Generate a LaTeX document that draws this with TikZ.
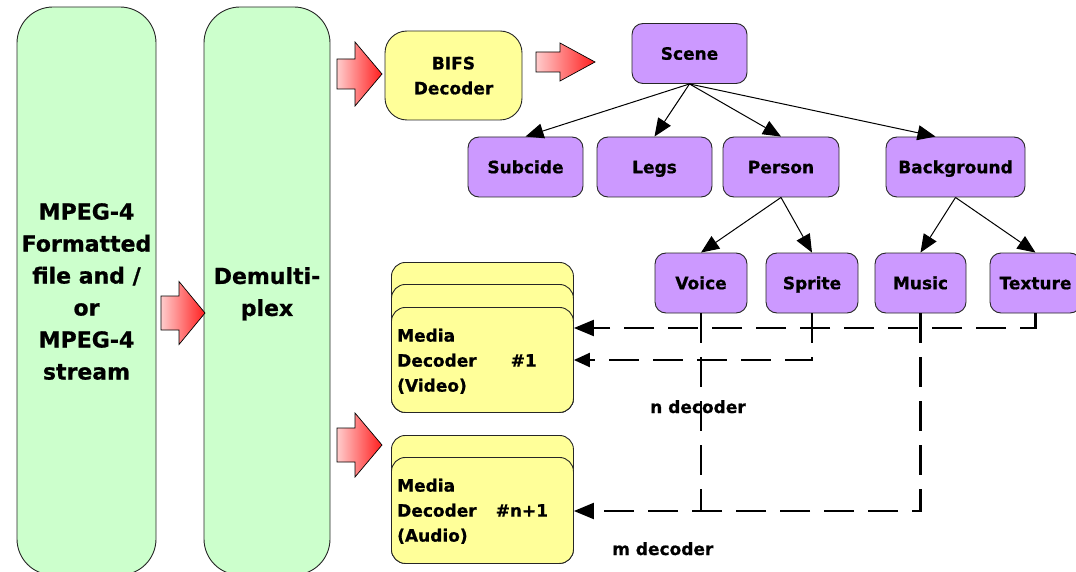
\documentclass[tikz,border=0pt]{standalone}
\usepackage{fontspec}
\setmainfont{DejaVu Sans}[BoldFeatures={FakeBold=0.8}]
\usetikzlibrary{arrows.meta}

\definecolor{mintfill}{HTML}{CCFFCC}
\definecolor{lemonfill}{HTML}{FFFF99}
\definecolor{lilacfill}{HTML}{CC99FF}
\definecolor{arrowlight}{HTML}{FFCCCC}
\definecolor{arrowred}{HTML}{FF1E1E}

% block arrow: tail x, head-base x, tip x, centre y, half shaft, half head
\newcommand{\blockarrow}[6]{%
  \path[draw=black, line width=0.7pt, left color=arrowlight, right color=arrowred]
    (#1,#4-#5) -- (#2,#4-#5) -- (#2,#4-#6) -- (#3,#4) -- (#2,#4+#6)
    -- (#2,#4+#5) -- (#1,#4+#5) -- cycle;}

\begin{document}
\begin{tikzpicture}[x=1pt, y=-1pt,
  outline/.style={draw=black!85, line width=0.9pt, inner sep=0pt, rectangle},
  greenbox/.style={outline, fill=mintfill, rounded corners=36pt},
  bigtext/.style={inner sep=0pt, align=center, anchor=north,
    font=\fontsize{22}{32}\selectfont\bfseries},
  yellowbox/.style={outline, fill=lemonfill},
  midtext/.style={inner sep=0pt, font=\fontsize{17}{25}\selectfont\bfseries},
  pbox/.style={outline, fill=lilacfill, rounded corners=11pt,
    minimum height=60pt, text height=12.4pt, text depth=0pt,
    font=\fontsize{17}{20}\selectfont\bfseries},
  treearrow/.style={line width=1pt, -{Triangle[length=18pt, width=15pt]}},
  dashline/.style={line width=2.2pt, dash pattern=on 30pt off 14pt},
  bighead/.style={-{Triangle[length=20pt, width=16pt]}},
  smallhead/.style={-{Triangle[length=16pt, width=14pt]}},
]
\useasboundingbox (0,0) rectangle (1076,572);

% input stream and demultiplexer
\node[greenbox, minimum width=139pt, minimum height=568pt] (src) at (86.5,291) {};
\node[bigtext] (srctext) at (86.5,203)
  {MPEG-4\\Formatted\\file and /\\or\\MPEG-4\\stream};
\node[greenbox, minimum width=126pt, minimum height=568pt] (demux) at (267,291) {};
\node[bigtext] (demuxtext) at (267,267) {Demulti-\\plex};

% block arrows
\blockarrow{161}{179}{205}{313}{17}{31.5}
\blockarrow{337}{355}{382}{74}{15}{32}
\blockarrow{337}{355}{382}{445}{17}{32}
\blockarrow{536}{560}{595}{62}{10}{19}

% BIFS decoder
\node[yellowbox, rounded corners=22pt, minimum width=137pt, minimum height=89pt]
  (bifs) at (453.5,75.5) {};
\node[midtext, align=center, anchor=north] (bifstext) at (453.5,56.5) {BIFS\\Decoder};

% media decoder stacks
\node[yellowbox, rounded corners=14pt, minimum width=182pt, minimum height=150pt,
  anchor=north west] (dec1c) at (391,262) {};
\node[yellowbox, rounded corners=14pt, minimum width=182pt, minimum height=128pt,
  anchor=north west] (dec1b) at (391,284) {};
\node[yellowbox, rounded corners=14pt, minimum width=182pt, minimum height=105pt,
  anchor=north west] (dec1) at (391,307) {};
\node[midtext, align=left, anchor=north west] (dec1text) at (397,328.5)
  {Media\\Decoder\hspace*{34pt}\#1\\(Video)};

\node[yellowbox, rounded corners=14pt, minimum width=182pt, minimum height=128pt,
  anchor=north west] (dec2b) at (391,435) {};
\node[yellowbox, rounded corners=14pt, minimum width=182pt, minimum height=106pt,
  anchor=north west] (dec2) at (391,457) {};
\node[midtext, align=left, anchor=north west] (dec2text) at (397,478.5)
  {Media\\Decoder\hspace*{19pt}\#n+1\\(Audio)};

% scene tree
\node[pbox, minimum width=115pt] (scene) at (689.5,53.5) {Scene};
\node[pbox, minimum width=115pt] (subcide) at (525.5,167) {Subcide};
\node[pbox, minimum width=115pt] (legs) at (654.5,167) {Legs};
\node[pbox, minimum width=116pt] (person) at (781,167) {Person};
\node[pbox, minimum width=139pt] (background) at (955.5,167) {Background};
\node[pbox, minimum width=92pt] (voice) at (701,283) {Voice};
\node[pbox, minimum width=92pt] (sprite) at (812,283) {Sprite};
\node[pbox, minimum width=91pt] (music) at (920.5,283) {Music};
\node[pbox, minimum width=91pt] (texture) at (1035.5,283) {Texture};

\draw[treearrow] (scene.south) -- (subcide.north);
\draw[treearrow] (scene.south) -- (legs.north);
\draw[treearrow] (scene.south) -- (person.north);
\draw[treearrow] (scene.south) -- ([xshift=-20pt]background.north);
\draw[treearrow] (person.south) -- (voice.north);
\draw[treearrow] (person.south) -- (sprite.north);
\draw[treearrow] (background.south) -- (music.north);
\draw[treearrow] (background.south) -- (texture.north);

% decoder counts
\node[midtext, anchor=base west] (ncount) at (650,413) {n decoder};
\node[midtext, anchor=base west] (mcount) at (612,555) {m decoder};

% object streams routed to decoders
\draw[dashline, bighead] (texture.south) |- (dec1.east |- 0,328);
\draw[dashline, smallhead] (sprite.south) |- (dec1.east |- 0,360);
\draw[dashline] (voice.south) -- (voice.south |- 0,511);
\draw[dashline, bighead] (music.south) |- (dec2.east |- 0,511);
\end{tikzpicture}
\end{document}
